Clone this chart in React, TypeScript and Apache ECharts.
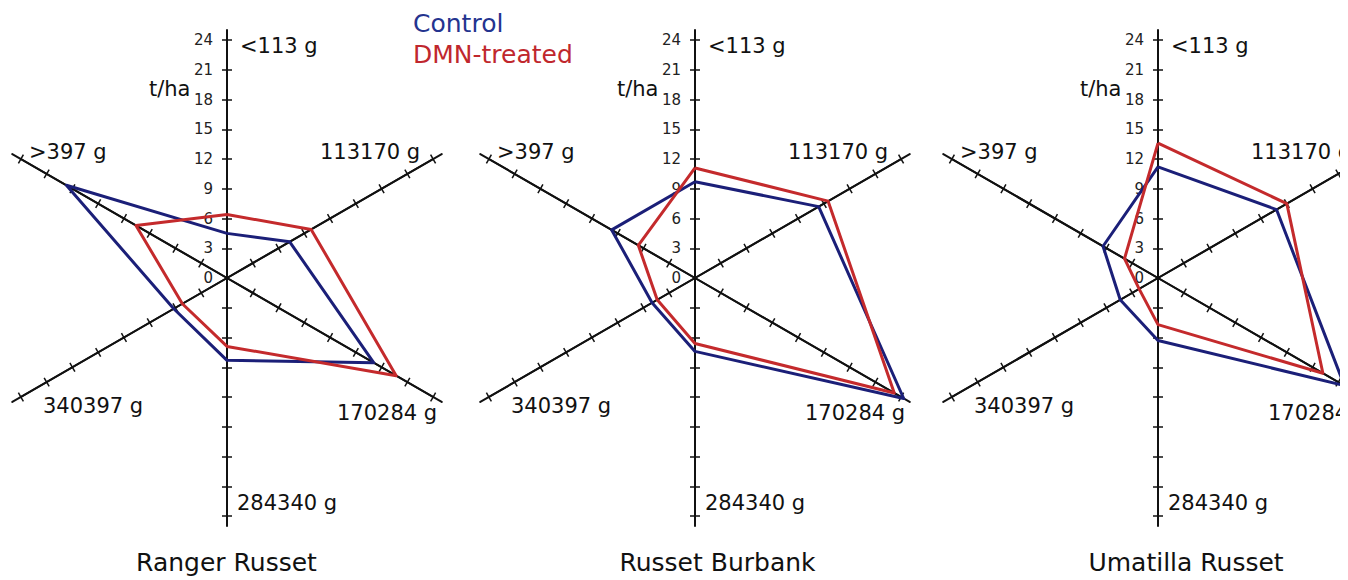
import React, { useEffect, useRef } from "react";
import * as echarts from "echarts";

// ---- data ----
const sizeClasses = ["<113 g", "113170 g", "170284 g", "284340 g", "340397 g", ">397 g"];
const cultivars = ["Ranger Russet", "Russet Burbank", "Umatilla Russet"];
const seriesNames = ["Control", "DMN-treated"];
const axisMax = 24;
const axisStep = 3;
const tickValues = [3, 6, 9, 12, 15, 18, 21, 24];
const unitLabel = "t/ha";

// yields (t/ha) per size class, in sizeClasses order
const rangerControl = [4.5, 7.3, 17.1, 8.3, 6.2, 18.7];
const rangerDMN = [6.4, 9.8, 19.7, 6.9, 5.2, 10.6];
const burbankControl = [9.7, 14.4, 24.3, 7.4, 5.0, 9.7];
const burbankDMN = [11.1, 15.5, 23.2, 6.6, 4.4, 6.6];
const umatillaControl = [11.2, 13.8, 21.7, 6.3, 4.4, 6.4];
const umatillaDMN = [13.6, 15.0, 19.2, 4.7, 2.2, 3.9];

const controlValues = [rangerControl, burbankControl, umatillaControl];
const dmnValues = [rangerDMN, burbankDMN, umatillaDMN];

// ---- layout / style ----
const FONT = "DejaVu Sans";
const BLUE = "#1b1f78";
const RED = "#c42a2c";
const centersX = [227, 695, 1158];
const centerY = 278;
const R = 238;
const titleX = [226.5, 717.5, 1186];
const titleY = 562;
// order of indicators in ECharts (counter-clockwise from top)
const indicatorOrder = [0, 5, 4, 3, 2, 1];
// name label offsets (left x, middle y) relative to centre, per size class
const nameOffsets = [
  [13, -232],
  [93, -126],
  [110, 135],
  [10, 225],
  [-184, 128],
  [-198, -126],
];

export default function App() {
  const ref = useRef<HTMLDivElement>(null);

  useEffect(() => {
    if (!ref.current) return;
    const chart = echarts.init(ref.current, null, { renderer: "svg" });

    const splitNumber = axisMax / axisStep;
    const radars: any[] = [];
    const series: any[] = [];
    const graphics: any[] = [];

    centersX.forEach((cx, k) => {
      const base = {
        center: [cx, centerY],
        shape: "polygon",
        splitNumber,
        splitLine: { show: false },
        splitArea: { show: false },
        axisName: { show: false },
        silent: true,
      };
      // main radar with ticks on one side and labels on the top axis
      radars.push({
        ...base,
        radius: R,
        indicator: indicatorOrder.map((i, idx) => ({
          name: sizeClasses[i],
          min: 0,
          max: axisMax,
          axisLabel: { show: idx === 0 },
        })),
        axisLine: { show: true, lineStyle: { color: "#111", width: 2 } },
        axisTick: {
          show: true,
          length: 5,
          customValues: tickValues,
          lineStyle: { color: "#111", width: 1.5 },
        },
        axisLabel: {
          show: false,
          color: "#222",
          fontSize: 15,
          fontFamily: FONT,
          margin: 14,
        },
      });
      // second radar providing the other half of the crossing ticks
      radars.push({
        ...base,
        radius: R,
        indicator: indicatorOrder.map((i) => ({ name: sizeClasses[i], min: 0, max: axisMax })),
        axisLine: { show: false },
        axisTick: {
          show: true,
          length: -5,
          customValues: tickValues,
          lineStyle: { color: "#111", width: 1.5 },
        },
        axisLabel: { show: false },
      });
      // axis extension beyond the last tick
      radars.push({
        ...base,
        radius: (R * (axisMax + 1)) / axisMax,
        splitNumber: 5,
        indicator: indicatorOrder.map((i) => ({ name: sizeClasses[i], min: 0, max: axisMax + 1 })),
        axisLine: { show: true, lineStyle: { color: "#111", width: 2 } },
        axisTick: { show: false },
        axisLabel: { show: false },
      });

      series.push({
        type: "radar",
        radarIndex: k * 3,
        symbol: "none",
        silent: true,
        z: 5,
        data: [
          {
            name: seriesNames[0],
            value: indicatorOrder.map((i) => controlValues[k][i]),
            lineStyle: { color: BLUE, width: 3 },
            itemStyle: { color: BLUE },
          },
          {
            name: seriesNames[1],
            value: indicatorOrder.map((i) => dmnValues[k][i]),
            lineStyle: { color: RED, width: 3 },
            itemStyle: { color: RED },
          },
        ],
      });

      sizeClasses.forEach((name, i) => {
        graphics.push({
          type: "text",
          x: cx + nameOffsets[i][0],
          y: centerY + nameOffsets[i][1],
          silent: true,
          style: {
            text: name,
            fill: "#111",
            font: `21px "${FONT}"`,
            align: "left",
            verticalAlign: "middle",
            textAlign: "left",
            textVerticalAlign: "middle",
          },
        });
      });
      graphics.push({
        type: "text",
        x: cx - 78,
        y: centerY - 189,
        silent: true,
        style: {
          text: unitLabel,
          fill: "#111",
          font: `21px "${FONT}"`,
          align: "left",
          verticalAlign: "middle",
          textAlign: "left",
          textVerticalAlign: "middle",
        },
      });
      graphics.push({
        type: "text",
        x: titleX[k],
        y: titleY,
        silent: true,
        style: {
          text: cultivars[k],
          fill: "#111",
          font: `25px "${FONT}"`,
          align: "center",
          verticalAlign: "middle",
          textAlign: "center",
          textVerticalAlign: "middle",
        },
      });
    });

    // legend texts
    [seriesNames[0], seriesNames[1]].forEach((n, i) => {
      graphics.push({
        type: "text",
        x: 413,
        y: 23 + i * 31,
        silent: true,
        style: {
          text: n,
          fill: i === 0 ? "#24348f" : "#c0272d",
          font: `25px "${FONT}"`,
          align: "left",
          verticalAlign: "middle",
          textAlign: "left",
          textVerticalAlign: "middle",
        },
      });
    });

    chart.setOption({
      animation: false,
      backgroundColor: "#fff",
      radar: radars,
      series,
      graphic: { elements: graphics },
    });

    return () => chart.dispose();
  }, []);

  return (
    <div
      ref={ref}
      style={{ position: "absolute", left: 0, top: 0, width: 1340, height: 580, background: "#fff" }}
    />
  );
}
